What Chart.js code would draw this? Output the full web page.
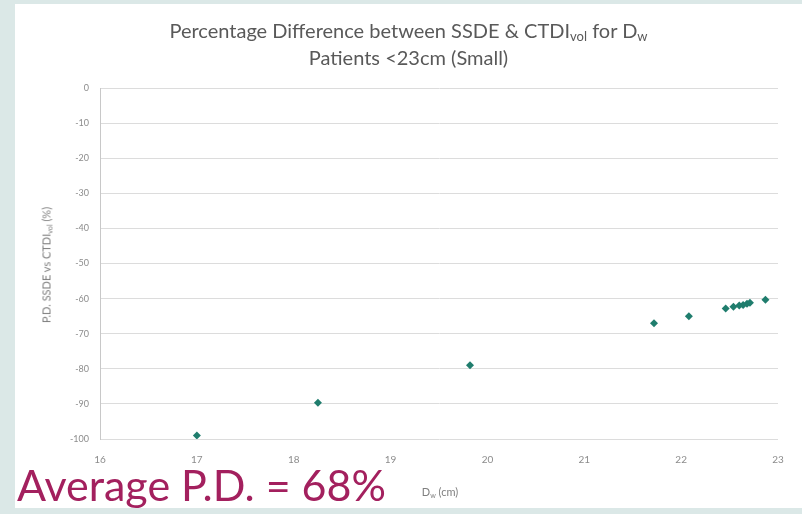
<!DOCTYPE html>
<html>
<head>
<meta charset="utf-8">
<script src="https://cdn.jsdelivr.net/npm/chart.js@4"></script>
<style>
  html, body { margin: 0; padding: 0; }
  body { width: 802px; height: 514px; background: #dbe8e7; position: relative; overflow: hidden; font-family: Lato, "Open Sans", sans-serif; }
  #panel { position: absolute; left: 15px; top: 4px; width: 787px; height: 504px; background: #fff; }
  #chartWrap { position: absolute; left: 0; top: 0; width: 802px; height: 514px; }
  .title { position: absolute; left: 15px; width: 787px; text-align: center; color: #595959; font-size: 20px; }
  .ytitle { position: absolute; left: 46px; top: 265px; transform: translate(-50%, -50%) rotate(-90deg); color: #7f7f7f; font-size: 11px; white-space: nowrap; }
  .xtitle { position: absolute; left: 440px; top: 485px; transform: translateX(-50%); color: #7f7f7f; font-size: 11px; white-space: nowrap; }
  sub { font-size: 65%; vertical-align: -0.25em; line-height: 0; }
  #avg { position: absolute; left: 17px; top: 463px; color: #a3205e; font-size: 43px; white-space: nowrap; line-height: 1; }
</style>
</head>
<body>
<div id="panel"></div>
<div id="chartWrap"><canvas id="scatterChart" width="802" height="514"></canvas></div>
<div class="title" style="top:18px">Percentage Difference between SSDE &amp; CTDI<sub>vol</sub> for D<sub>w</sub></div>
<div class="title" style="top:45px">Patients &lt;23cm (Small)</div>
<div class="ytitle">P.D. SSDE vs CTDI<sub>vol</sub> (%)</div>
<div class="xtitle">D<sub>w</sub> (cm)</div>
<div id="avg">Average P.D. = 68%</div>
<script>
// water-equivalent diameter (cm)
const dwValues = [17.0, 18.25, 19.82, 21.72, 22.08, 22.46, 22.54, 22.6, 22.64, 22.68, 22.71, 22.87];
// percentage difference SSDE vs CTDIvol (%)
const pdValues = [-99, -89.7, -79, -67, -65, -62.8, -62.3, -62, -61.8, -61.5, -61.2, -60.3];

const xTicks = { min: 16, max: 23, step: 1 };
const yTicks = { min: -100, max: 0, step: 10 };

const points = dwValues.map((x, i) => ({ x: x, y: pdValues[i] }));

const ctx = document.getElementById("scatterChart").getContext("2d");

new Chart(ctx, {
  type: "scatter",
  data: {
    datasets: [{
      label: "P.D.",
      data: points,
      pointStyle: "rectRot",
      pointRadius: 4,
      backgroundColor: "#1f7d6d",
      borderColor: "#1f7d6d",
      borderWidth: 0
    }]
  },
  options: {
    responsive: false,
    animation: false,
    layout: { padding: { left: 0, right: 24, top: 88, bottom: 0 } },
    plugins: {
      legend: { display: false },
      tooltip: { enabled: false }
    },
    scales: {
      x: {
        type: "linear",
        min: xTicks.min,
        max: xTicks.max,
        ticks: { stepSize: xTicks.step, color: "#8c8c8c", font: { family: "Lato", size: 10 }, padding: 15 },
        grid: { display: false, drawTicks: false },
        border: { display: false },
        afterFit: s => { s.height = 75; }
      },
      y: {
        min: yTicks.min,
        max: yTicks.max,
        ticks: { stepSize: yTicks.step, color: "#8c8c8c", font: { family: "Lato", size: 9 }, padding: 11 },
        grid: { color: "#dcdcdc", lineWidth: 1, drawTicks: false },
        border: { display: true, color: "#c8c8c8" },
        afterFit: s => { s.width = 100; }
      }
    }
  }
});
</script>
</body>
</html>
